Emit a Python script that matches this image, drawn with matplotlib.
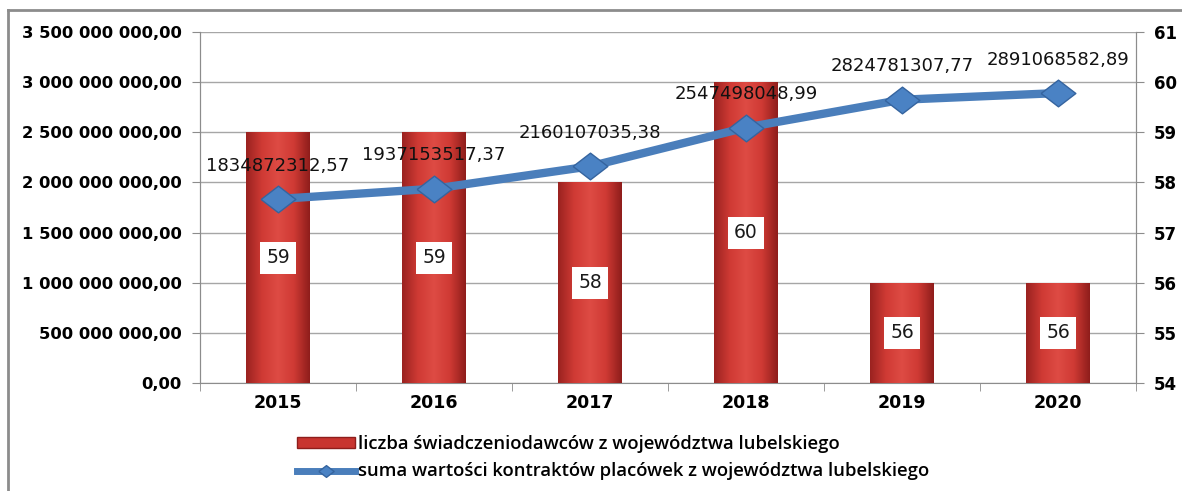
import numpy as np
import matplotlib
matplotlib.use("Agg")
import matplotlib.pyplot as plt
from matplotlib.colors import LinearSegmentedColormap
from matplotlib.lines import Line2D
from matplotlib.patches import Patch

years = ["2015", "2016", "2017", "2018", "2019", "2020"]
providers = [59, 59, 58, 60, 56, 56]
contracts = [1834872312.57, 1937153517.37, 2160107035.38,
             2547498048.99, 2824781307.77, 2891068582.89]
line_labels = ["1834872312,57", "1937153517,37", "2160107035,38",
               "2547498048,99", "2824781307,77", "2891068582,89"]

left_ticks = np.arange(0, 3.5e9 + 1, 0.5e9)
right_ticks = np.arange(54, 62, 1)


def pl_money(v):
    s = "{:,.2f}".format(v)
    return s.replace(",", " ").replace(".", ",")


W, H = 1182, 491
fig = plt.figure(figsize=(W / 100, H / 100), dpi=100)
ax2 = fig.add_axes([200 / W, 1 - 383 / H, 936 / W, 351 / H])  # bars, right axis
ax1 = ax2.twinx()                                               # line, left axis
ax1.yaxis.tick_left()
ax2.yaxis.tick_right()
ax1.set_zorder(ax2.get_zorder() + 1)
ax1.patch.set_visible(False)

x = np.arange(len(years))
grey = "#8c8c8c"
diamond = [(-1.3, 0), (0, 1), (1.3, 0), (0, -1), (-1.3, 0)]  # flat diamond

# bars with simple horizontal shading
cmap = LinearSegmentedColormap.from_list(
    "redbar", ["#9a2220", "#cf3a34", "#de4b44", "#cf3a34", "#8e1d1b"])
bars = ax2.bar(x, [p - 54 for p in providers], bottom=54, width=0.41,
               color="#d03c36", edgecolor="none", zorder=2)
grad = np.linspace(0, 1, 256).reshape(1, -1)
for b in bars:
    bx, by = b.get_x(), b.get_y()
    bw, bh = b.get_width(), b.get_height()
    im = ax2.imshow(grad, cmap=cmap, aspect="auto", zorder=3,
                    extent=[bx, bx + bw, by, by + bh], interpolation="bicubic")
    im.set_clip_path(b)
for xi, p in zip(x, providers):
    ax2.text(xi, (54 + p) / 2, str(p), ha="center", va="center", fontsize=13.5,
             color="#1a1a1a", zorder=5,
             bbox=dict(boxstyle="square,pad=0.35", fc="white", ec="none"))

ax2.set_xlim(-0.5, len(years) - 0.5)
ax2.set_ylim(54, 61)
ax2.set_yticks(right_ticks)
ax2.set_yticklabels([str(t) for t in right_ticks], fontsize=12, fontweight="bold")
ax2.yaxis.grid(True, color="#a6a6a6", linewidth=1)
ax2.set_axisbelow(True)

# line on the left axis
ax1.plot(x, contracts, color="#4a7ebb", linewidth=6, zorder=4,
         marker=diamond, markersize=25, markerfacecolor="#4a82c4",
         markeredgecolor="#35649f", markeredgewidth=1.0)
for xi, v, lab in zip(x, contracts, line_labels):
    ax1.annotate(lab, (xi, v), xytext=(0, 24), textcoords="offset points",
                 ha="center", va="center", fontsize=13, color="#111111")
ax1.set_ylim(0, 3.5e9)
ax1.set_yticks(left_ticks)
ax1.set_yticklabels([pl_money(t) for t in left_ticks], fontsize=11.8,
                    fontweight="bold")

ax2.set_xticks(x)
ax2.set_xticklabels(years, fontsize=12.5, fontweight="bold")
ax2.set_xticks(np.arange(-0.5, len(years)), minor=True)
ax2.tick_params(axis="x", which="major", length=0, pad=8)
ax2.tick_params(axis="x", which="minor", length=6, color=grey)
ax2.tick_params(axis="y", length=6, color=grey, pad=7)
ax1.tick_params(axis="y", length=6, color=grey, pad=7)

for a in (ax1, ax2):
    a.spines["top"].set_visible(False)
    for s in ("left", "right", "bottom"):
        a.spines[s].set_color(grey)
ax1.spines["bottom"].set_visible(False)

# legend under the plot
handles = [Patch(facecolor="#c8342f", edgecolor="#8e1d1b"),
           Line2D([0], [0], color="#4a7ebb", linewidth=5, marker=diamond,
                  markersize=11, markerfacecolor="#4a82c4",
                  markeredgecolor="#35649f")]
labels = ["liczba świadczeniodawców z województwa lubelskiego",
          "suma wartości kontraktów placówek z województwa lubelskiego"]
fig.legend(handles, labels, loc="upper left",
           bbox_to_anchor=(288 / W, 1 - 426 / H), frameon=False,
           borderpad=0, handlelength=3.1, handleheight=0.5,
           handletextpad=0.2, labelspacing=0.5,
           prop={"family": "Open Sans", "size": 13.3, "weight": "semibold"})

# outer frame
fig.add_artist(Line2D([8 / W, 8 / W], [0, 1 - 10 / H], color=grey,
                      linewidth=2, transform=fig.transFigure))
fig.add_artist(Line2D([8 / W, 1], [1 - 10 / H, 1 - 10 / H], color=grey,
                      linewidth=2, transform=fig.transFigure))

fig.savefig("out.png", dpi=100)
